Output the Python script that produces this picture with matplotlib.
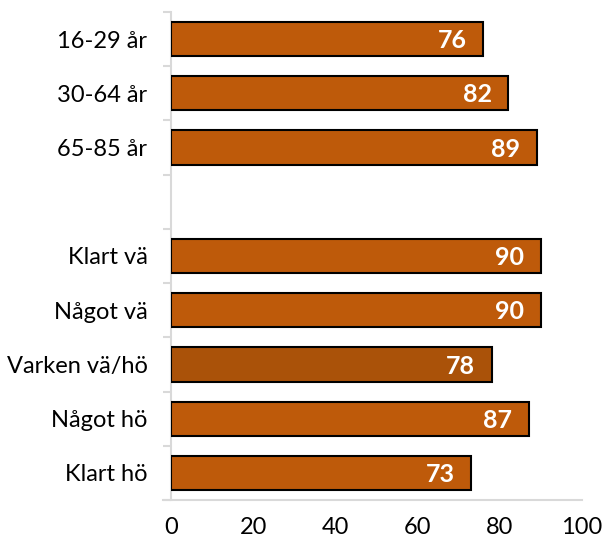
import matplotlib
matplotlib.use("Agg")
import matplotlib.pyplot as plt
import numpy as np

categories = ["16-29 år", "30-64 år", "65-85 år", "", "Klart vä", "Något vä", "Varken vä/hö", "Något hö", "Klart hö"]
values = [76, 82, 89, None, 90, 90, 78, 87, 73]
colors = ["#BE5A0A", "#BE5A0A", "#BE5A0A", None, "#BE5A0A", "#BE5A0A", "#AA5209", "#BE5A0A", "#BE5A0A"]
xticks = [0, 20, 40, 60, 80, 100]

plt.rcParams['font.family'] = ['Lato', 'DejaVu Sans']

fig = plt.figure(figsize=(6.03, 5.43), dpi=100)
ax = fig.add_axes([171/603, 1 - 500/543, (582 - 171)/603, (500 - 12)/543])

y = np.arange(len(categories))
for yi, v, c in zip(y, values, colors):
    if v is None:
        continue
    ax.barh(yi, v, height=0.63, color=c, edgecolor="black", linewidth=1.5, zorder=3)
    ax.text(v - 4, yi + 0.03, f"{v}", ha="right", va="center", color="white",
            fontsize=18, fontweight="bold", zorder=4)

ax.set_xlim(0, 100)
ax.set_ylim(len(categories) - 0.5, -0.5)
ax.set_yticks(y)
ax.set_yticklabels(categories)
ax.set_yticks(np.arange(len(categories) + 1) - 0.5, minor=True)
ax.tick_params(axis="y", which="major", length=0, pad=17, labelsize=17)
ax.tick_params(axis="y", which="minor", length=6, width=1.5, color="#D9D9D9")
ax.set_xticks(xticks)
ax.tick_params(axis="x", length=0, pad=12, labelsize=17)

for s in ["top", "right", "bottom"]:
    ax.spines[s].set_visible(False)
ax.spines["left"].set_color("#D9D9D9")
ax.spines["left"].set_linewidth(1.5)
ax.plot([-2, 100], [len(categories) - 0.5] * 2, color="#D9D9D9", lw=1.5,
        clip_on=False, zorder=2)

fig.savefig("out.png", dpi=100)
